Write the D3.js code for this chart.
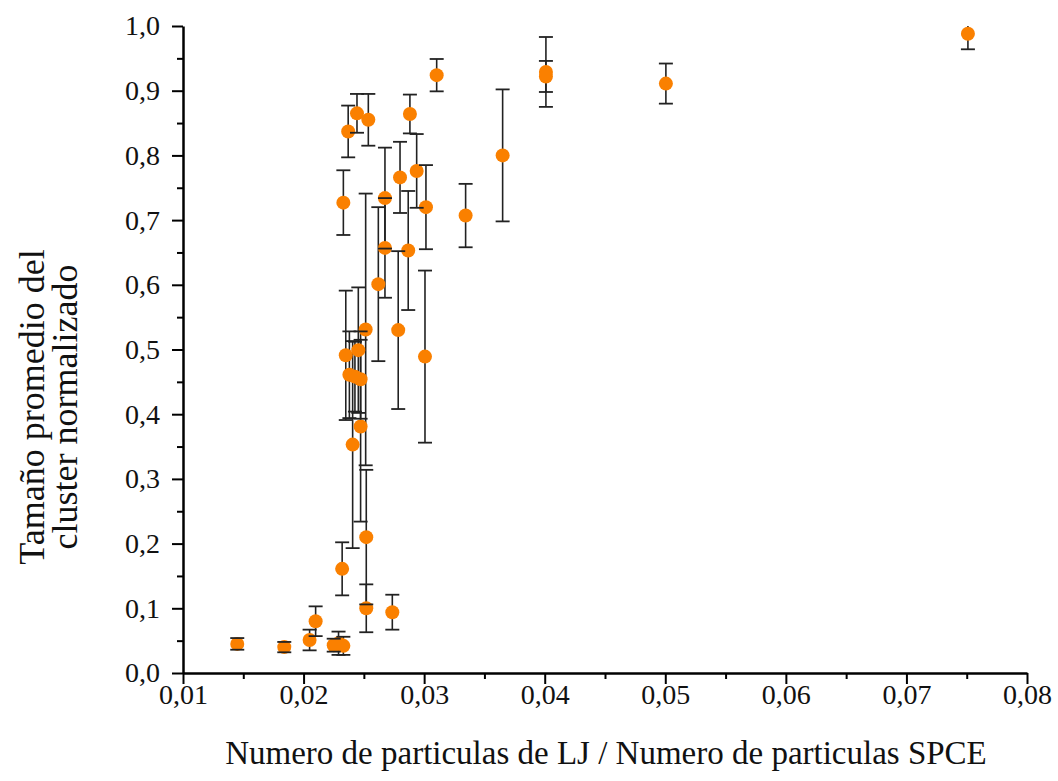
<!DOCTYPE html>
<html>
<head>
<meta charset="utf-8">
<script src="https://cdn.jsdelivr.net/npm/d3@7"></script>
<style>
  body { margin: 0; background: #ffffff; }
  svg text { font-family: "Liberation Serif", "Times New Roman", serif; fill: #111; }
</style>
</head>
<body>
<div id="chart"></div>
<script>
// ratio LJ / SPCE
const ratioLJ = [0.0145, 0.0184, 0.0205, 0.0210, 0.0225, 0.0229, 0.0233, 0.0232, 0.0233, 0.0237,
                 0.0235, 0.0238, 0.02407, 0.02426, 0.02443, 0.02454, 0.02473, 0.02473, 0.0252, 0.0252,
                 0.02515, 0.02537, 0.0262, 0.02675, 0.02675, 0.02736, 0.02785, 0.0280, 0.02868, 0.02882,
                 0.02938, 0.03007, 0.03015, 0.03104, 0.03344, 0.03651, 0.0401, 0.0401, 0.05005, 0.0751];
// tamaño promedio del cluster normalizado
const clusterSize = [0.045, 0.040, 0.051, 0.080, 0.043, 0.046, 0.042, 0.161, 0.727, 0.837,
                     0.491, 0.461, 0.353, 0.458, 0.865, 0.499, 0.454, 0.381, 0.210, 0.100,
                     0.531, 0.855, 0.601, 0.734, 0.657, 0.094, 0.530, 0.766, 0.653, 0.864,
                     0.776, 0.489, 0.720, 0.924, 0.707, 0.800, 0.929, 0.922, 0.911, 0.988];
// error (desviacion)
const clusterErr = [0.009, 0.008, 0.016, 0.023, 0.010, 0.018, 0.014, 0.041, 0.050, 0.040,
                    0.100, 0.067, 0.160, 0.054, 0.030, 0.097, 0.061, 0.147, 0.104, 0.037,
                    0.210, 0.040, 0.119, 0.078, 0.077, 0.027, 0.122, 0.055, 0.092, 0.030,
                    0.057, 0.133, 0.065, 0.025, 0.049, 0.102, 0.054, 0.024, 0.031, 0.024];

const xTicks = [0.01, 0.02, 0.03, 0.04, 0.05, 0.06, 0.07, 0.08];
const yTicks = [0.0, 0.1, 0.2, 0.3, 0.4, 0.5, 0.6, 0.7, 0.8, 0.9, 1.0];

const width = 1058, height = 781;
const margin = { top: 26, right: 31, bottom: 108, left: 183 };

const svg = d3.select('#chart')
              .append('svg')
               .attr('width', width)
               .attr('height', height);

const x = d3.scaleLinear().domain([0.01, 0.08]).range([margin.left, width - margin.right]);
const y = d3.scaleLinear().domain([0, 1]).range([height - margin.bottom, margin.top]);

const comma = function(f) { return function(d) { return d3.format(f)(d).replace('.', ','); }; };

// plot area clip (error bars are cut at 1,0 like in the original)
svg.append('clipPath').attr('id', 'plotclip')
   .append('rect')
    .attr('x', x(0.01) - 20).attr('y', y(1))
    .attr('width', x(0.08) - x(0.01) + 40).attr('height', y(0) - y(1));

// minor ticks
const xMinor = d3.range(0.015, 0.08, 0.01);
const yMinor = d3.range(0.05, 1.0, 0.1);

svg.append('g')
   .attr('transform', `translate(0,${y(0)})`)
   .call(d3.axisBottom(x).tickValues(xMinor).tickSize(6).tickFormat(''))
   .call(g => g.select('.domain').remove())
   .selectAll('line').attr('stroke', '#000').attr('stroke-width', 2);

svg.append('g')
   .attr('transform', `translate(${x(0.01)},0)`)
   .call(d3.axisLeft(y).tickValues(yMinor).tickSize(6).tickFormat(''))
   .call(g => g.select('.domain').remove())
   .selectAll('line').attr('stroke', '#000').attr('stroke-width', 2);

// x axis
const gx = svg.append('g')
   .attr('transform', `translate(0,${y(0)})`)
   .call(d3.axisBottom(x).tickValues(xTicks).tickSize(11).tickSizeOuter(0).tickPadding(0).tickFormat(comma('.2f')));
gx.select('.domain').attr('stroke', '#000').attr('stroke-width', 2.5);
gx.selectAll('.tick line').attr('stroke', '#000').attr('stroke-width', 2);
gx.selectAll('text').style('font-size', '28px').style('font-family', '"Liberation Serif", serif').attr('fill', '#111');

// y axis
const gy = svg.append('g')
   .attr('transform', `translate(${x(0.01)},0)`)
   .call(d3.axisLeft(y).tickValues(yTicks).tickSize(11).tickSizeOuter(0).tickPadding(12).tickFormat(comma('.1f')));
gy.select('.domain').attr('stroke', '#000').attr('stroke-width', 2.5);
gy.selectAll('.tick line').attr('stroke', '#000').attr('stroke-width', 2);
gy.selectAll('text').style('font-size', '28px').style('font-family', '"Liberation Serif", serif').attr('fill', '#111');

// titles
svg.append('text')
   .attr('x', 606).attr('y', 764)
   .attr('text-anchor', 'middle')
   .style('font-size', '33px')
   .text('Numero de particulas de LJ / Numero de particulas SPCE');

svg.append('text')
   .attr('transform', 'translate(44,407) rotate(-90)')
   .attr('text-anchor', 'middle')
   .style('font-size', '36px')
   .text('Tamaño promedio del');

svg.append('text')
   .attr('transform', 'translate(77,407) rotate(-90)')
   .attr('text-anchor', 'middle')
   .style('font-size', '36px')
   .text('cluster normalizado');

// datos
const data = ratioLJ.map(function(d, i) { return { x: d, y: clusterSize[i], e: clusterErr[i] }; });
const r = 7, cap = 7;

const plot = svg.append('g').attr('clip-path', 'url(#plotclip)');

plot.append('g').attr('class', 'errorbars')
    .selectAll('line')
    .data(data).enter().append('line')
    .attr('x1', d => x(d.x)).attr('x2', d => x(d.x))
    .attr('y1', d => y(d.y - d.e)).attr('y2', d => y(d.y + d.e))
    .attr('stroke', '#222').attr('stroke-width', 1.6);

plot.append('g').attr('class', 'dots')
   .selectAll('circle')
   .data(data).enter().append('circle')
    .attr('cx', d => x(d.x))
    .attr('cy', d => y(d.y))
    .attr('r', r)
    .attr('fill', '#fa8000');

const caps = plot.append('g').attr('class', 'caps');
caps.selectAll('line.top')
    .data(data).enter().append('line')
    .attr('class', 'top')
    .attr('x1', d => x(d.x) - cap).attr('x2', d => x(d.x) + cap)
    .attr('y1', d => y(d.y + d.e)).attr('y2', d => y(d.y + d.e))
    .attr('stroke', '#222').attr('stroke-width', 1.8);
caps.selectAll('line.bottom')
    .data(data).enter().append('line')
    .attr('class', 'bottom')
    .attr('x1', d => x(d.x) - cap).attr('x2', d => x(d.x) + cap)
    .attr('y1', d => y(d.y - d.e)).attr('y2', d => y(d.y - d.e))
    .attr('stroke', '#222').attr('stroke-width', 1.8);
</script>
</body>
</html>
